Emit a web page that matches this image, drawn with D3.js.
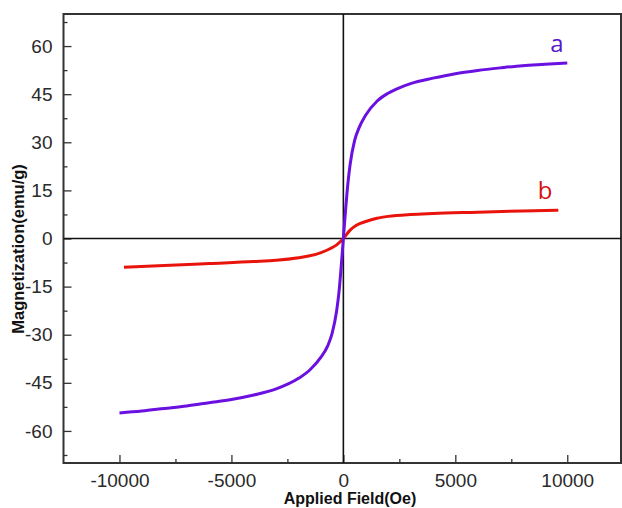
<!DOCTYPE html>
<html>
<head>
<meta charset="utf-8">
<script src="https://cdn.jsdelivr.net/npm/d3@7"></script>
<style>
  body { margin: 0; background: #fff; }
  svg { display: block; }
  .tick text { font-family: Arial, "Liberation Sans", sans-serif; font-size: 19px; fill: #2a2a2a; }
  .domain { display: none; }
</style>
</head>
<body>
<div id="chart"></div>
<script>
var width = 622,
    height = 508;

// curve a (purple)
var fieldA = [-10000, -9000, -8000, -7000, -6000, -5000, -4000, -3000, -2000, -1500, -1000, -700, -500, -300, -200, -100, 0,
              100, 200, 300, 500, 700, 1000, 1500, 2000, 2500, 3000, 4000, 5000, 6000, 7000, 8000, 9000, 10000];
var magA = [-54.4, -53.8, -53.0, -52.2, -51.2, -50.2, -48.8, -46.9, -43.6, -41.0, -37.0, -33.5, -29.5, -22.5, -17, -9, 0,
            9, 17, 23, 30.5, 34.5, 38.5, 42.8, 45.3, 47, 48.3, 50.0, 51.4, 52.4, 53.2, 53.9, 54.3, 54.7];

// curve b (red)
var fieldB = [-9800, -8000, -6000, -4000, -3000, -2000, -1500, -1000, -600, -300, 0,
              300, 600, 1000, 1500, 2000, 3000, 4000, 6000, 8000, 9600];
var magB = [-9.0, -8.4, -7.8, -7.2, -6.8, -6.0, -5.4, -4.4, -3.2, -2.0, 0,
            2.6, 4.2, 5.3, 6.3, 6.9, 7.5, 7.8, 8.2, 8.6, 8.8];

var xMajor = [-10000, -5000, 0, 5000, 10000];
var xMinor = [-7500, -2500, 2500, 7500];
var yMajor = [-60, -45, -30, -15, 0, 15, 30, 45, 60];
var yMinor = [-67.5, -52.5, -37.5, -22.5, -7.5, 7.5, 22.5, 37.5, 52.5, 67.5];

var x = d3.scaleLinear().domain([-12500, 12400]).range([63.5, 621]);
var y = d3.scaleLinear().domain([-70, 70]).range([463, 14]);

var plain = function(d) { return String(d); };

var svg = d3.select('#chart').append('svg')
  .attr('width', width)
  .attr('height', height);

// axes
svg.append('g')
  .attr('transform', 'translate(0,' + y(-70) + ')')
  .call(d3.axisBottom(x).tickValues(xMajor).tickSizeInner(-8).tickSizeOuter(0).tickPadding(11).tickFormat(plain))
  .call(function(g) { g.selectAll('line').attr('stroke', '#333').attr('stroke-width', 1.3); });

svg.append('g')
  .attr('transform', 'translate(0,' + y(-70) + ')')
  .call(d3.axisBottom(x).tickValues(xMinor).tickSizeInner(-4).tickSizeOuter(0).tickFormat(''))
  .call(function(g) { g.selectAll('line').attr('stroke', '#333').attr('stroke-width', 1.3); });

svg.append('g')
  .attr('transform', 'translate(' + x(-12500) + ',0)')
  .call(d3.axisLeft(y).tickValues(yMajor).tickSizeInner(-8).tickSizeOuter(0).tickPadding(11).tickFormat(plain))
  .call(function(g) { g.selectAll('line').attr('stroke', '#333').attr('stroke-width', 1.3); });

svg.append('g')
  .attr('transform', 'translate(' + x(-12500) + ',0)')
  .call(d3.axisLeft(y).tickValues(yMinor).tickSizeInner(-4).tickSizeOuter(0).tickFormat(''))
  .call(function(g) { g.selectAll('line').attr('stroke', '#333').attr('stroke-width', 1.3); });

// frame
svg.append('rect')
  .attr('x', x(-12500))
  .attr('y', y(70))
  .attr('width', x(12400) - x(-12500))
  .attr('height', y(-70) - y(70))
  .attr('fill', 'none')
  .attr('stroke', '#333')
  .attr('stroke-width', 2);

// zero lines
svg.append('line')
  .attr('x1', x(-12500)).attr('x2', x(12400))
  .attr('y1', y(0)).attr('y2', y(0))
  .attr('stroke', '#111').attr('stroke-width', 1.6);
svg.append('line')
  .attr('x1', x(0)).attr('x2', x(0))
  .attr('y1', y(70)).attr('y2', y(-70))
  .attr('stroke', '#111').attr('stroke-width', 1.6);

var line = d3.line()
  .x(function(d) { return x(d[0]); })
  .y(function(d) { return y(d[1]); })
  .curve(d3.curveMonotoneX);

svg.append('path')
  .datum(d3.zip(fieldB, magB))
  .attr('d', line)
  .attr('fill', 'none')
  .attr('stroke', '#e8140c')
  .attr('stroke-width', 3);

svg.append('path')
  .datum(d3.zip(fieldA, magA))
  .attr('d', line)
  .attr('fill', 'none')
  .attr('stroke', '#6a10e0')
  .attr('stroke-width', 3);

// curve labels
svg.append('text')
  .attr('x', 557).attr('y', 52)
  .attr('text-anchor', 'middle')
  .attr('font-family', '"Open Sans", sans-serif')
  .attr('font-size', 24)
  .attr('fill', '#5a18c8')
  .text('a');

svg.append('text')
  .attr('x', 545).attr('y', 199)
  .attr('text-anchor', 'middle')
  .attr('font-family', '"Open Sans", sans-serif')
  .attr('font-size', 24)
  .attr('fill', '#d41010')
  .text('b');

// axis titles
svg.append('text')
  .attr('x', 350).attr('y', 504)
  .attr('text-anchor', 'middle')
  .attr('font-family', 'Arial, "Liberation Sans", sans-serif')
  .attr('font-weight', 'bold')
  .attr('font-size', 16)
  .attr('fill', '#111')
  .text('Applied Field(Oe)');

svg.append('text')
  .attr('transform', 'translate(24,249) rotate(-90)')
  .attr('text-anchor', 'middle')
  .attr('font-family', 'Arial, "Liberation Sans", sans-serif')
  .attr('font-weight', 'bold')
  .attr('font-size', 16.5)
  .attr('fill', '#111')
  .text('Magnetization(emu/g)');
</script>
</body>
</html>
